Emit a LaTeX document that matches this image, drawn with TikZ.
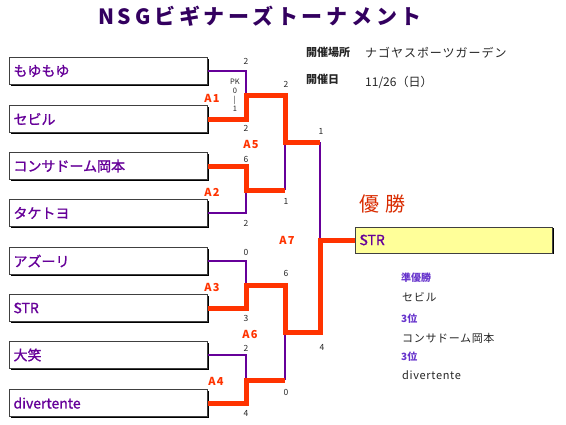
\documentclass[tikz,border=0pt]{standalone}
\usepackage{fontspec}
\setmainfont{Noto Sans CJK JP}
\usetikzlibrary{shadows}
\definecolor{purp}{HTML}{660099}
\definecolor{tpurp}{HTML}{33005F}
\definecolor{redl}{HTML}{FF3300}
\definecolor{yel}{HTML}{FFFF99}
\definecolor{lpurp}{HTML}{6633CC}
\newcommand{\semib}{\addfontfeatures{FakeBold=1.2}}
\tikzset{
  team/.style={draw=black!75, line width=1pt, fill=white, text width=190pt, inner xsep=4pt, inner ysep=0pt,
    minimum height=27pt, align=left, anchor=west, font=\fontsize{14}{14}\selectfont\semib, text=purp,
    drop shadow={shadow xshift=1.2pt, shadow yshift=-1.2pt, fill=black, opacity=1}},
  lose/.style={draw=purp, line width=1.5pt},
  win/.style={draw=redl, line width=5pt, line join=miter},
  score/.style={font=\fontsize{8.5}{8.5}\selectfont, text=black!85, inner sep=0pt},
  mlab/.style={font=\fontsize{11}{11}\selectfont\bfseries\addfontfeatures{LetterSpace=12}, text=redl, inner sep=0pt},
  info/.style={font=\fontsize{11}{11}\selectfont, text=black!85, inner sep=0pt, anchor=west},
  sub/.style={font=\fontsize{10}{10}\selectfont\bfseries, text=lpurp, inner sep=0pt, anchor=west},
}
\begin{document}
\begin{tikzpicture}[x=1pt,y=-1pt]
\useasboundingbox (0,0) rectangle (566,424);
% title
\node[font=\fontsize{21}{21}\selectfont\bfseries, text=tpurp, inner sep=0pt] (title) at (260,16)
  {\addfontfeatures{LetterSpace=18}NSGビギナーズトーナメント};
% info
\node[info, font=\fontsize{11}{11}\selectfont\bfseries] (place) at (306,52) {開催場所};
\node[info, font=\fontsize{12}{12}\selectfont] (placev) at (365,53) {\addfontfeatures{LetterSpace=8}ナゴヤスポーツガーデン};
\node[info, font=\fontsize{11}{11}\selectfont\bfseries] (date) at (306,79) {開催日};
\node[info, font=\fontsize{12}{12}\selectfont] (datev) at (365,82) {11/26（日）};
% teams
\node[team] (t1) at (9,71) {もゆもゆ};
\node[team] (t2) at (9,119) {セビル};
\node[team] (t3) at (9,166) {コンサドーム岡本};
\node[team] (t4) at (9,213) {タケトヨ};
\node[team] (t5) at (9,261) {アズーリ};
\node[team] (t6) at (9,308) {STR};
\node[team] (t7) at (9,355) {大笑};
\node[team] (t8) at (9,403) {divertente};
\node[team, fill=yel, text width=189pt, minimum height=26pt] (champ) at (355,240) {STR};
% junctions
\coordinate (m1) at (246,95);
\coordinate (m2) at (246,190);
\coordinate (m3) at (246,285);
\coordinate (m4) at (246,380);
\coordinate (m5) at (285,142);
\coordinate (m6) at (285,332);
\coordinate (m7) at (320,240);
\coordinate (e2) at (285,190);
\coordinate (e4) at (285,380);
\coordinate (e5) at (320,142);
% losing lines
\draw[lose] (t1.east) -| (m1);
\draw[lose] (t4.east) -| (m2);
\draw[lose] (t5.east) -| (m3);
\draw[lose] (t7.east) -| (m4);
\draw[lose] (e2) -- (m5);
\draw[lose] (e4) -- (m6);
\draw[lose] (e5) -- (m7);
% winning lines
\draw[win] (t2.east) -| (m1) -| (m5) -- (e5);
\draw[win] (t3.east) -| (m2) -- (e2);
\draw[win] (t8.east) -| (m4) -- (e4);
\draw[win] (t6.east) -| (m3) -| (m6) -| (m7) -- (champ.west);
% scores
\node[score] (s1) at (246,61) {2};
\node[score] (s2) at (246,128) {2};
\node[score, align=center, font=\fontsize{7.5}{9}\selectfont] (pk) at (235,95) {PK\\0\\|\\1};
\node[score] (s3) at (246,159) {6};
\node[score] (s4) at (246,223) {2};
\node[score] (s5) at (246,252) {0};
\node[score] (s6) at (246,318) {3};
\node[score] (s7) at (246,348) {2};
\node[score] (s8) at (246,413) {4};
\node[score] (s9) at (286,84) {2};
\node[score] (s10) at (286,201) {1};
\node[score] (s11) at (286,273) {6};
\node[score] (s12) at (286,392) {0};
\node[score] (s13) at (321,131) {1};
\node[score] (s14) at (322,347) {4};
% match labels
\node[mlab] (a1) at (212,98) {A1};
\node[mlab] (a2) at (212,192) {A2};
\node[mlab] (a3) at (212,287) {A3};
\node[mlab] (a4) at (216,381) {A4};
\node[mlab] (a5) at (251,144) {A5};
\node[mlab] (a6) at (250,334) {A6};
\node[mlab] (a7) at (287,240) {A7};
% champion
\node[font=\fontsize{20}{20}\selectfont, text=redl!85!black, inner sep=0pt, anchor=west] (win) at (359,204) {優\,\,勝};
\node[sub] (r2l) at (401,278) {準優勝};
\node[info] (r2) at (402,297) {\addfontfeatures{LetterSpace=6}セビル};
\node[sub] (r3l) at (401,319) {3位};
\node[info] (r3) at (402,338) {\addfontfeatures{LetterSpace=6}コンサドーム岡本};
\node[sub] (r4l) at (401,357) {3位};
\node[info] (r4) at (402,375) {\addfontfeatures{LetterSpace=6}divertente};
\end{tikzpicture}
\end{document}
